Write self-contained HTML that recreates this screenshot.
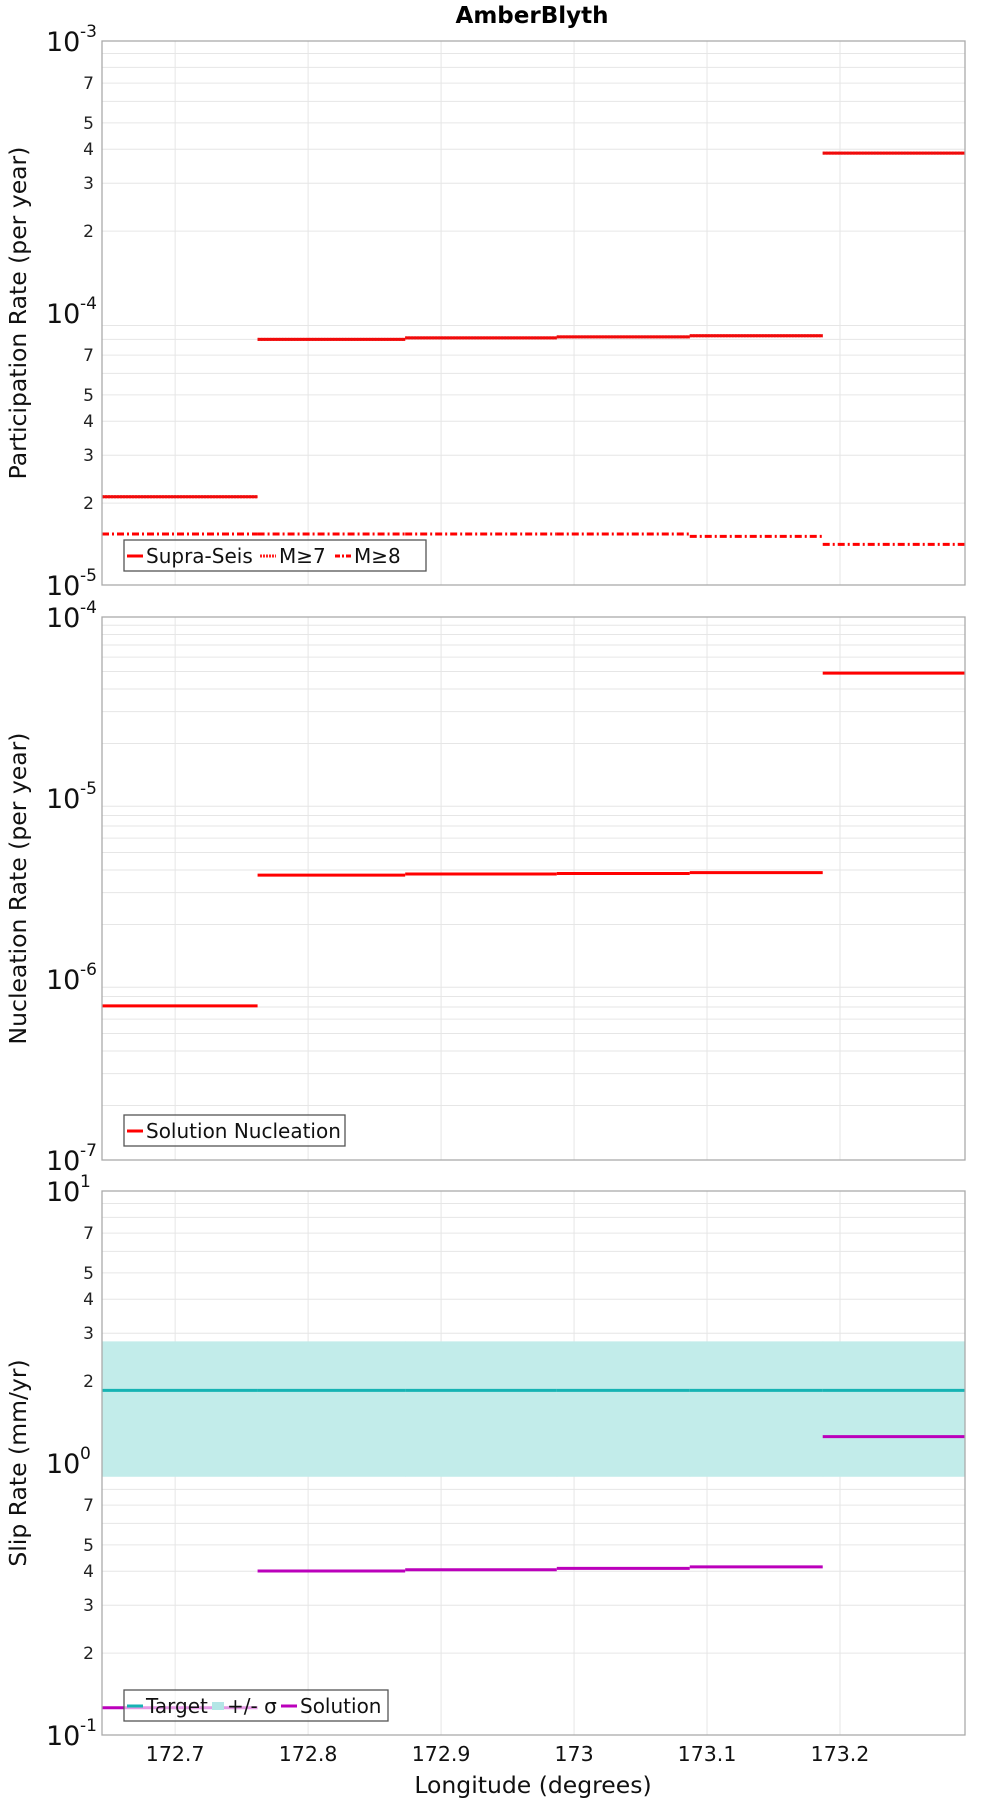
<!DOCTYPE html>
<html><head><meta charset="utf-8"><style>
html,body{margin:0;padding:0;background:#fff;}
svg{display:block;font-family:"DejaVu Sans","Liberation Sans",sans-serif;}
</style></head><body>
<svg id="chart" width="1000" height="1800" viewBox="0 0 1000 1800">
<text x="532" y="23" text-anchor="middle" font-size="23" font-weight="bold">AmberBlyth</text>
</svg>
<script>
// shared x data
const boundaries = [172.645, 172.762, 172.873, 172.987, 173.087, 173.187, 173.294];
const xTicks = [172.7, 172.8, 172.9, 173, 173.1, 173.2];
const xTickLabels = ["172.7", "172.8", "172.9", "173", "173.1", "173.2"];
// panel 1
const supraSeis = [2.11e-5, 8.0e-5, 8.1e-5, 8.17e-5, 8.25e-5, 3.87e-4];
const m7 = [2.11e-5, 8.0e-5, 8.1e-5, 8.17e-5, 8.25e-5, 3.87e-4];
const m8 = [1.54e-5, 1.54e-5, 1.54e-5, 1.54e-5, 1.51e-5, 1.41e-5];
// panel 2
const nucleation = [7.1e-7, 3.75e-6, 3.8e-6, 3.83e-6, 3.87e-6, 4.9e-5];
// panel 3
const targetSlip = [1.85, 1.85, 1.85, 1.85, 1.85, 1.85];
const sigmaLow = [0.89, 0.89, 0.89, 0.89, 0.89, 0.89];
const sigmaHigh = [2.80, 2.80, 2.80, 2.80, 2.80, 2.80];
const solutionSlip = [0.126, 0.401, 0.405, 0.41, 0.415, 1.25];

const NS = "http://www.w3.org/2000/svg";
const svg = document.getElementById("chart");
const L = 102, R = 965;
const xMin = boundaries[0], xMax = boundaries[boundaries.length - 1];
function xs(v) { return L + (v - xMin) / (xMax - xMin) * (R - L); }
function mk(tag, attrs, parent) {
  const e = document.createElementNS(NS, tag);
  for (const k in attrs) e.setAttribute(k, attrs[k]);
  (parent || svg).appendChild(e);
  return e;
}
function panel(cfg) {
  const g = mk("g", {});
  
  
  const T = cfg.top, B = cfg.bottom;
  const lmin = cfg.minExp, lmax = cfg.maxExp;
  const ys = v => B - (Math.log10(v) - lmin) / (lmax - lmin) * (B - T);
  for (let e = lmin; e < lmax; e++) {
    for (let m = 1; m <= 9; m++) {
      const y = ys(m * Math.pow(10, e));
      if (m > 1) {
        const gl = mk("line", {x1: L, x2: R, y1: y, y2: y, stroke: "#e6e6e6", "stroke-width": 1}, g);
        
        
      }
      if (cfg.minorLabels && [2,3,4,5,7].includes(m)) {
        const t = mk("text", {x: L - 8, y: y + 6, "text-anchor": "end", "font-size": 17, fill: "#222"}, g);
        t.textContent = m;
        
        
      }
    }
  }
  for (let e = lmin; e <= lmax; e++) {
    const y = ys(Math.pow(10, e));
    const t = mk("text", {x: L - 56, y: y + 10, "font-size": 27, fill: "#111"}, g);
    t.textContent = "10";
    
    
    const s = mk("text", {x: L - 22, y: y - 4, "font-size": 17, fill: "#111"}, g);
    s.textContent = String(e);
    
    
  }
  xTicks.forEach(v => {
    const gl = mk("line", {x1: xs(v), x2: xs(v), y1: T, y2: B, stroke: "#e6e6e6", "stroke-width": 1}, g);
    
    
  });
  cfg.draw(g, ys);
  const fr = mk("rect", {x: L, y: T, width: R - L, height: B - T, fill: "none", stroke: "#aaa", "stroke-width": 1.3}, g);
  
  
  const yt = mk("text", {x: 0, y: 0, "text-anchor": "middle", "font-size": 23.5, fill: "#111", transform: `translate(26 ${(T + B) / 2}) rotate(-90)`}, g);
  yt.textContent = cfg.ytitle;
  
  
  return g;
}
function steps(g, vals, ys, style, name) {
  vals.forEach((v, i) => {
    const l = mk("line", Object.assign({x1: xs(boundaries[i]), x2: xs(boundaries[i + 1]), y1: ys(v), y2: ys(v)}, style), g);
    
    
  });
}
function legend(g, x, y, w, items) {
  const lg = mk("g", {}, g);
  
  
  const r = mk("rect", {x: x, y: y, width: w, height: 31, fill: "rgba(255,255,255,0.6)", stroke: "#555", "stroke-width": 1.3}, lg);
  
  
  let cx = x + 3;
  items.forEach(it => {
    const sw = it.band
      ? mk("rect", {x: cx, y: y + 12, width: 12, height: 8, fill: "#b3e6e6"}, lg)
      : mk("line", Object.assign({x1: cx, x2: cx + 16, y1: y + 16, y2: y + 16}, it.style), lg);
    
    
    cx += it.band ? 15 : 19;
    const t = mk("text", {x: cx, y: y + 23, "font-size": 20, fill: "#111"}, lg);
    t.textContent = it.label;
    
    
    cx += it.w;
  });
}
const red = {stroke: "#ff0000", "stroke-width": 3};
panel({name: "participation-panel", top: 41, bottom: 585, minExp: -5, maxExp: -3, minorLabels: true, ytitle: "Participation Rate (per year)",
  draw: (g, ys) => {
    steps(g, supraSeis, ys, red, 'supra-seis');
    steps(g, m7, ys, {stroke: "#e81010", "stroke-width": 3, "stroke-dasharray": "2 1"}, 'm7');
    steps(g, m8, ys, {stroke: "#ff0000", "stroke-width": 3, "stroke-dasharray": "7 3 2 3"}, 'm8');
    legend(g, 124, 540, 302, [
      {label: "Supra-Seis", style: red, w: 114},
      {label: "M≥7", style: {stroke: "#ff2020", "stroke-width": 3, "stroke-dasharray": "2 1"}, w: 56},
      {label: "M≥8", style: {stroke: "#ff0000", "stroke-width": 3, "stroke-dasharray": "5 2 2 2"}, w: 50}
    ]);
  }});
panel({name: "nucleation-panel", top: 617, bottom: 1160, minExp: -7, maxExp: -4, minorLabels: false, ytitle: "Nucleation Rate (per year)",
  draw: (g, ys) => {
    steps(g, nucleation, ys, red, 'solution-nucleation');
    legend(g, 124, 1115, 221, [{label: "Solution Nucleation", style: red, w: 190}]);
  }});
panel({name: "slip-rate-panel", top: 1191, bottom: 1735, minExp: -1, maxExp: 1, minorLabels: true, ytitle: "Slip Rate (mm/yr)",
  draw: (g, ys) => {
    sigmaLow.forEach((v, i) => {
      const r = mk("rect", {x: xs(boundaries[i]), width: xs(boundaries[i + 1]) - xs(boundaries[i]) + 0.5, y: ys(sigmaHigh[i]), height: ys(v) - ys(sigmaHigh[i]), fill: "#c2ecea"}, g);
      
      
    });
    steps(g, targetSlip, ys, {stroke: "#16b3b3", "stroke-width": 3}, 'target');
    steps(g, solutionSlip, ys, {stroke: "#bb00bb", "stroke-width": 3}, 'solution');
    legend(g, 124, 1690, 264, [
      {label: "Target", style: {stroke: "#16b3b3", "stroke-width": 3}, w: 66},
      {label: "+/- σ", band: true, w: 54},
      {label: "Solution", style: {stroke: "#bb00bb", "stroke-width": 3}, w: 80}
    ]);
  }});
xTicks.forEach((v, i) => {
  const t = mk("text", {x: xs(v), y: 1761, "text-anchor": "middle", "font-size": 20.5, fill: "#111"});
  t.textContent = xTickLabels[i];
  
  
});
const xt = mk("text", {x: 533, y: 1793, "text-anchor": "middle", "font-size": 23.5, fill: "#111"});
xt.textContent = "Longitude (degrees)";


</script>
</body></html>
